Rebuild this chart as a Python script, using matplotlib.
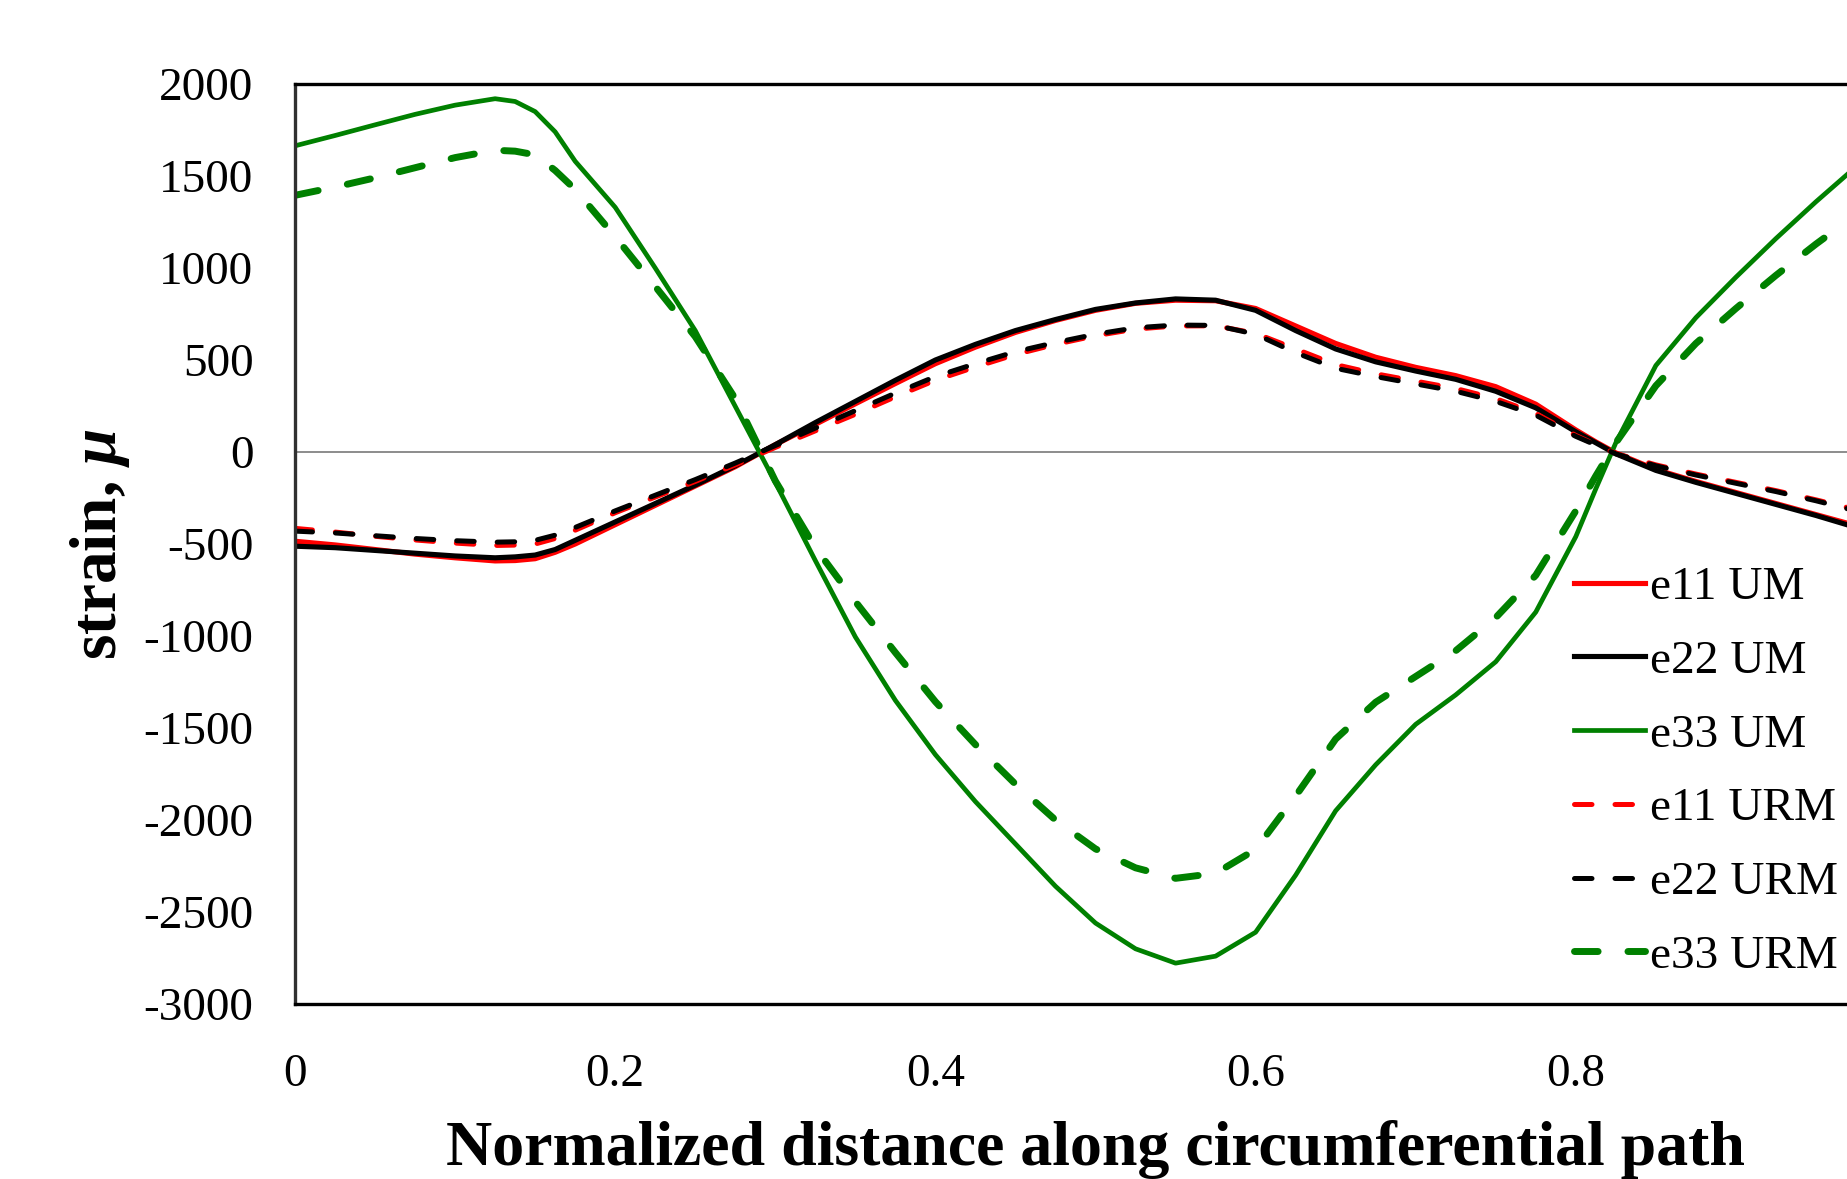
import numpy as np
import matplotlib
matplotlib.use('Agg')
from matplotlib import pyplot as plt

plt.rcParams['font.family'] = ['Liberation Serif', 'DejaVu Serif']
plt.rcParams['mathtext.fontset'] = 'custom'
plt.rcParams['mathtext.it'] = 'Liberation Serif:italic:bold'
plt.rcParams['axes.unicode_minus'] = False

# normalized distance along the path
x = [0, .025, .05, .075, .1, .125, .1375, .15, .1625, .175, .2, .225, .25, .275, .3, .325, .35,
     .375, .4, .425, .45, .475, .5, .525, .55, .575, .6, .625, .65, .675, .7, .725,
     .75, .775, .8, .8125, .825, .85, .875, .9, .925, .95, .975, 1.0]

e11_um = [-485, -505, -530, -555, -575, -592, -590, -580, -545, -500, -395, -290, -185, -80, 40, 150, 262,
          372, 480, 570, 650, 715, 770, 808, 825, 822, 780, 685, 590, 515, 460, 415,
          355, 260, 120, 55, -5, -95, -160, -220, -280, -340, -400, -460]
e22_um = [-512, -520, -535, -550, -565, -575, -570, -560, -530, -480, -380, -280, -180, -75, 40, 160, 275,
          390, 500, 585, 660, 720, 775, 810, 832, 825, 770, 660, 560, 490, 440, 395,
          330, 240, 110, 50, -10, -100, -165, -225, -285, -345, -410, -470]
e33_um = [1664, 1720, 1778, 1835, 1885, 1920, 1905, 1850, 1740, 1580, 1330, 1000, 660, 248, -165, -590, -1005,
          -1350, -1645, -1900, -2130, -2360, -2560, -2700, -2778, -2740, -2610, -2300, -1950, -1700, -1480, -1320,
          -1140, -870, -460, -200, 50, 470, 730, 950, 1160, 1360, 1550, 1720]
e11_urm = [-415, -435, -458, -478, -495, -508, -506, -500, -470, -425, -330, -245, -160, -70, 25, 115, 205,
           300, 390, 462, 530, 585, 632, 668, 685, 686, 645, 560, 475, 425, 385, 345,
           290, 210, 90, 40, -8, -70, -120, -165, -210, -260, -313, -365]
e22_urm = [-430, -440, -455, -470, -482, -490, -488, -480, -452, -410, -320, -235, -150, -60, 35, 130, 225,
           320, 410, 480, 545, 595, 640, 675, 690, 688, 640, 540, 455, 410, 370, 330,
           275, 200, 85, 38, -10, -75, -125, -170, -215, -265, -320, -375]
e33_urm = [1395, 1440, 1490, 1545, 1600, 1640, 1635, 1615, 1530, 1427, 1170, 900, 627, 290, -157, -520, -813,
           -1090, -1357, -1590, -1805, -2000, -2157, -2260, -2317, -2290, -2160, -1870, -1560, -1360, -1220, -1080,
           -900, -670, -320, -130, 50, 360, 590, 780, 960, 1130, 1290, 1420]

labels = ['e11 UM', 'e22 UM', 'e33 UM', 'e11 URM', 'e22 URM', 'e33 URM']
yticks = [2000, 1500, 1000, 500, 0, -500, -1000, -1500, -2000, -2500, -3000]
xticks = [0, 0.2, 0.4, 0.6, 0.8]
xticklabels = ['0', '0.2', '0.4', '0.6', '0.8']

fig = plt.figure(figsize=(18.47, 11.79), dpi=100)
# axes runs past the right edge of the picture, as in the cropped original
ax = fig.add_axes([295/1847, 175/1179, 1601/1847, 920/1179])

ax.axhline(0, color='#8c8c8c', lw=1.4, zorder=1)

short_dash = (0, (3.5, 4.6))
long_dash = (0, (3.4, 4.3))
ax.plot(x, e11_um, color='red', lw=3.7, label=labels[0])
ax.plot(x, e22_um, color='black', lw=3.7, label=labels[1])
ax.plot(x, e33_um, color='green', lw=3.4, label=labels[2])
ax.plot(x, e11_urm, color='red', lw=3.6, ls=short_dash, dash_capstyle='round', label=labels[3])
ax.plot(x, e22_urm, color='black', lw=3.6, ls=short_dash, dash_capstyle='round', label=labels[4])
ax.plot(x, e33_urm, color='green', lw=5.0, ls=long_dash, dash_capstyle='round', label=labels[5])

ax.set_xlim(0, 1.0)
ax.set_ylim(-3000, 2000)
ax.set_xticks(xticks)
ax.set_xticklabels(xticklabels)
ax.set_yticks(yticks)
ax.tick_params(length=0, labelsize=34)
ax.tick_params(axis='y', pad=30)
ax.tick_params(axis='x', pad=36)

for s in ['top', 'bottom']:
    ax.spines[s].set_linewidth(2.4)
    ax.spines[s].set_color('black')
ax.spines['left'].set_linewidth(2.4)
ax.spines['left'].set_color('#303030')
ax.spines['right'].set_visible(False)

ax.set_xlabel('Normalized distance along circumferential path', fontsize=46,
              fontweight='bold', labelpad=17)
ax.set_ylabel(r'strain, $\mu$', fontsize=47, fontweight='bold', labelpad=8)

leg = ax.legend(loc='upper left', bbox_to_anchor=(1574/1847, 1 - 566/1179),
                bbox_transform=fig.transFigure, frameon=False, fontsize=34,
                handlelength=1.5, handletextpad=0.12, labelspacing=0.65,
                borderpad=0, borderaxespad=0)

fig.savefig('out.png', dpi=100)
